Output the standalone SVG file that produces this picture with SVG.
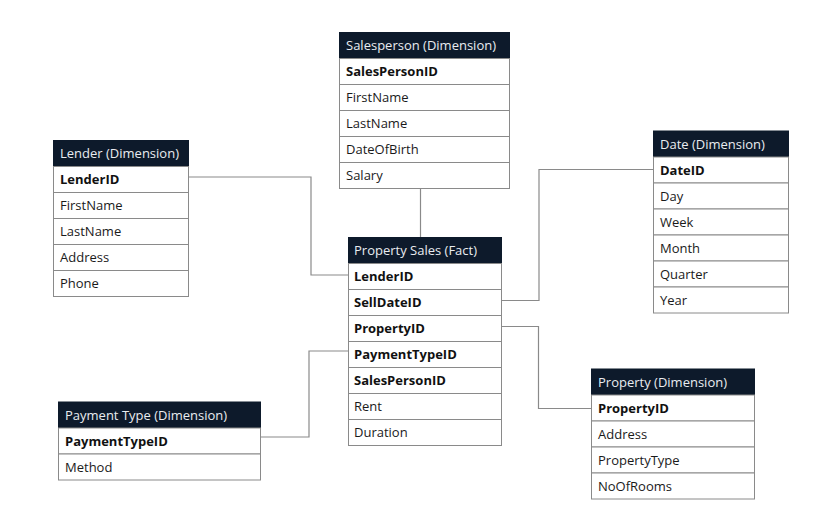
<svg xmlns="http://www.w3.org/2000/svg" width="839" height="518" viewBox="0 0 839 518">
<style>
.bg{fill:#ffffff}
.hd{fill:#0d1a2b;stroke:#0d1a2b;stroke-width:1}
.row{fill:#ffffff;stroke:#8a8a8a;stroke-width:1}
.ht{font-family:"Open Sans","Liberation Sans",sans-serif;font-size:13px;fill:#e9ecf0;font-weight:400}
.t{font-family:"Open Sans","Liberation Sans",sans-serif;font-size:13px;fill:#1a1a1a}
.k{font-family:"Open Sans","Liberation Sans",sans-serif;font-size:13px;fill:#111111;font-weight:700}
.c{fill:none;stroke:#8a8a8a;stroke-width:1.2}
</style>
<rect class="bg" x="0" y="0" width="839" height="518"/>
<g id="connectors">
<path class="c" d="M189,177 H311 V275 H348"/>
<path class="c" d="M420.5,188 V237"/>
<path class="c" d="M502,300.5 H539 V169.5 H653"/>
<path class="c" d="M502,326.5 H538.5 V408.5 H591"/>
<path class="c" d="M261,437 H309 V351 H348"/>
</g>
<g id="salesperson">
<rect class="hd" x="339.5" y="32.5" width="170" height="26"/>
<text class="ht" x="346" y="50">Salesperson (Dimension)</text>
<rect class="row" x="339.5" y="58.5" width="170" height="26"/>
<rect class="row" x="339.5" y="84.5" width="170" height="26"/>
<rect class="row" x="339.5" y="110.5" width="170" height="26"/>
<rect class="row" x="339.5" y="136.5" width="170" height="26"/>
<rect class="row" x="339.5" y="162.5" width="170" height="26"/>
<text class="k" x="346" y="76">SalesPersonID</text>
<text class="t" x="346" y="102">FirstName</text>
<text class="t" x="346" y="128">LastName</text>
<text class="t" x="346" y="154">DateOfBirth</text>
<text class="t" x="346" y="180">Salary</text>
</g>
<g id="lender">
<rect class="hd" x="53.5" y="140.5" width="135" height="26"/>
<text class="ht" x="60" y="158">Lender (Dimension)</text>
<rect class="row" x="53.5" y="166.5" width="135" height="26"/>
<rect class="row" x="53.5" y="192.5" width="135" height="26"/>
<rect class="row" x="53.5" y="218.5" width="135" height="26"/>
<rect class="row" x="53.5" y="244.5" width="135" height="26"/>
<rect class="row" x="53.5" y="270.5" width="135" height="26"/>
<text class="k" x="60" y="184">LenderID</text>
<text class="t" x="60" y="210">FirstName</text>
<text class="t" x="60" y="236">LastName</text>
<text class="t" x="60" y="262">Address</text>
<text class="t" x="60" y="288">Phone</text>
</g>
<g id="property-sales">
<rect class="hd" x="348.5" y="237.5" width="153" height="26"/>
<text class="ht" x="354" y="255">Property Sales (Fact)</text>
<rect class="row" x="348.5" y="263.5" width="153" height="26"/>
<rect class="row" x="348.5" y="289.5" width="153" height="26"/>
<rect class="row" x="348.5" y="315.5" width="153" height="26"/>
<rect class="row" x="348.5" y="341.5" width="153" height="26"/>
<rect class="row" x="348.5" y="367.5" width="153" height="26"/>
<rect class="row" x="348.5" y="393.5" width="153" height="26"/>
<rect class="row" x="348.5" y="419.5" width="153" height="26"/>
<text class="k" x="354" y="281">LenderID</text>
<text class="k" x="354" y="307">SellDateID</text>
<text class="k" x="354" y="333">PropertyID</text>
<text class="k" x="354" y="359">PaymentTypeID</text>
<text class="k" x="354" y="385">SalesPersonID</text>
<text class="t" x="354" y="411">Rent</text>
<text class="t" x="354" y="437">Duration</text>
</g>
<g id="date">
<rect class="hd" x="653.5" y="131" width="135" height="26"/>
<text class="ht" x="660" y="148.5">Date (Dimension)</text>
<rect class="row" x="653.5" y="157" width="135" height="26"/>
<rect class="row" x="653.5" y="183" width="135" height="26"/>
<rect class="row" x="653.5" y="209" width="135" height="26"/>
<rect class="row" x="653.5" y="235" width="135" height="26"/>
<rect class="row" x="653.5" y="261" width="135" height="26"/>
<rect class="row" x="653.5" y="287" width="135" height="26"/>
<text class="k" x="660" y="175">DateID</text>
<text class="t" x="660" y="201">Day</text>
<text class="t" x="660" y="227">Week</text>
<text class="t" x="660" y="253">Month</text>
<text class="t" x="660" y="279">Quarter</text>
<text class="t" x="660" y="305">Year</text>
</g>
<g id="payment-type">
<rect class="hd" x="58.5" y="402" width="202" height="26"/>
<text class="ht" x="65" y="419.5">Payment Type (Dimension)</text>
<rect class="row" x="58.5" y="428" width="202" height="26"/>
<rect class="row" x="58.5" y="454" width="202" height="26"/>
<text class="k" x="65" y="446">PaymentTypeID</text>
<text class="t" x="65" y="472">Method</text>
</g>
<g id="property">
<rect class="hd" x="591.5" y="369" width="163" height="26"/>
<text class="ht" x="598" y="386.5">Property (Dimension)</text>
<rect class="row" x="591.5" y="395" width="163" height="26"/>
<rect class="row" x="591.5" y="421" width="163" height="26"/>
<rect class="row" x="591.5" y="447" width="163" height="26"/>
<rect class="row" x="591.5" y="473" width="163" height="26"/>
<text class="k" x="598" y="413">PropertyID</text>
<text class="t" x="598" y="439">Address</text>
<text class="t" x="598" y="465">PropertyType</text>
<text class="t" x="598" y="491">NoOfRooms</text>
</g>
</svg>
